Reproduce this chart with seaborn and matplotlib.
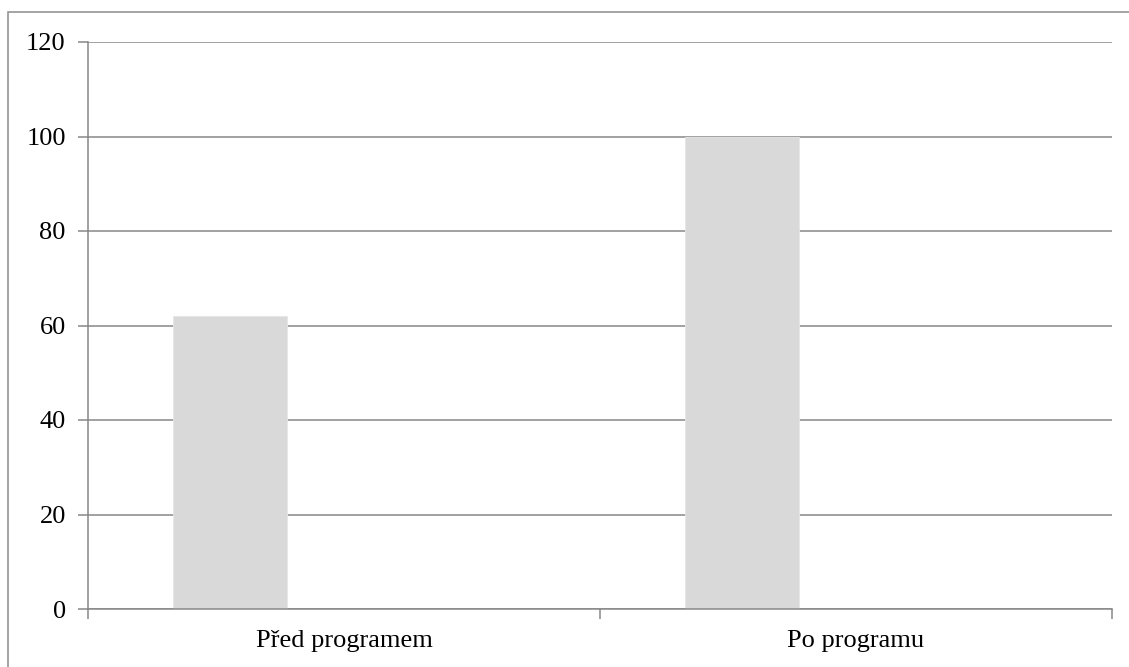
import matplotlib
matplotlib.use("Agg")
import matplotlib.pyplot as plt
import matplotlib.patches as mpatches
import pandas as pd
import seaborn as sns

# Data
categories = ["Před programem", "Po programu"]
series_names = ["Řada 1", "Řada 2", "Řada 3"]
values = [62, 100]
y_ticks = [0, 20, 40, 60, 80, 100, 120]

df = pd.DataFrame({
    "kategorie": categories,
    "hodnota": values,
    "řada": [series_names[0]] * len(categories),
})

sns.set_theme(style="white")
plt.rcParams["font.family"] = ["Liberation Serif", "DejaVu Serif"]

W, H = 1129, 667
fig = plt.figure(figsize=(W / 100, H / 100), dpi=100)
ax = fig.add_axes([88 / W, 1 - 609 / H, (1112 - 88) / W, (609 - 42) / H])

grid_color = "#878787"
bar_color = "#D9D9D9"

sns.barplot(
    data=df, x="kategorie", y="hodnota", hue="řada",
    hue_order=series_names, order=categories, dodge=True,
    palette=[bar_color] * 3, width=2 / 3, gap=0,
    edgecolor="#E6E6E6", linewidth=0.6,
    legend=False, ax=ax, errorbar=None,
)

ax.set_xlim(-0.5, len(categories) - 0.5)
ax.set_ylim(0, 120)
ax.set_xlabel("")
ax.set_ylabel("")

# Y axis
ax.set_yticks(y_ticks)
ax.set_yticklabels([str(t) for t in y_ticks])
ax.set_axisbelow(True)
ax.yaxis.grid(True, color=grid_color, linewidth=1.1)
ax.xaxis.grid(False)

# X axis: tick marks on category boundaries, labels at centres
ax.set_xticks([i - 0.5 for i in range(len(categories) + 1)])
ax.set_xticklabels([""] * (len(categories) + 1))
ax.set_xticks(range(len(categories)), minor=True)
ax.set_xticklabels(categories, minor=True)
ax.tick_params(axis="x", which="major", direction="out", length=7,
               width=1.1, color=grid_color, bottom=True)
ax.tick_params(axis="x", which="minor", length=0, pad=15,
               labelsize=19, labelcolor="black", bottom=True)
ax.tick_params(axis="y", direction="out", length=7, width=1.1,
               color=grid_color, left=True, pad=9, labelsize=19,
               labelcolor="black")

for side in ["top", "right"]:
    ax.spines[side].set_visible(False)
for side in ["left", "bottom"]:
    ax.spines[side].set_visible(True)
    ax.spines[side].set_color(grid_color)
    ax.spines[side].set_linewidth(1.1)

# Chart area border
fig.patches.append(mpatches.Rectangle(
    (8 / W, -0.05), 1.1, 1 - 12 / H + 0.05,
    transform=fig.transFigure, fill=False,
    edgecolor="#8C8C8C", linewidth=1.1, zorder=0,
))

fig.savefig("out.png", dpi=100)
